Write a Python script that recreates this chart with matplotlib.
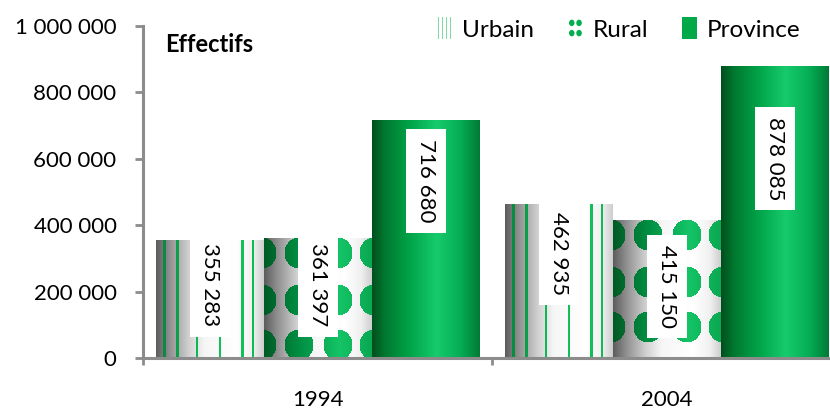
import numpy as np
import matplotlib
matplotlib.use("Agg")
import matplotlib.pyplot as plt
from matplotlib.patches import Rectangle, Ellipse
from matplotlib.legend_handler import HandlerBase
from matplotlib.ticker import FuncFormatter, FixedLocator

# ---------------- data ----------------
years = ["1994", "2004"]
series = ["Urbain", "Rural", "Province"]
urbain = [355283, 462935]
rural = [361397, 415150]
province = [716680, 878085]
y_ticks = [0, 200000, 400000, 600000, 800000, 1000000]
y_title = "Effectifs"

# ---------------- style / layout ----------------
plt.rcParams['font.family'] = ['Lato', 'DejaVu Sans']
FS = 16
W, H, DPI = 830, 409, 100
GRAY = "#8c8c8c"

fig = plt.figure(figsize=(W / DPI, H / DPI), dpi=DPI)
ax_left, ax_bottom, ax_top = 143, 358, 26
ax = fig.add_axes([ax_left / W, 1 - ax_bottom / H, 1 - ax_left / W, (ax_bottom - ax_top) / H])
group_px = 349.0
xmin = -0.501
xmax = xmin + (W - ax_left) / group_px
ymax = 1_000_000
ax.set_xlim(xmin, xmax)
ax.set_ylim(0, ymax)

bw = 108 / group_px
x = np.arange(len(years))
values = {"Urbain": urbain, "Rural": rural, "Province": province}
# label centre drop below the bar top, in pixels (layout only)
label_drop_px = {"Urbain": [45, 49], "Rural": [47, 66], "Province": [61, 92]}

def hexrgb(h):
    h = h.lstrip("#")
    return np.array([int(h[i:i + 2], 16) / 255 for i in (0, 2, 4)])

def profile(u, stops):
    pos = [s[0] for s in stops]
    cols = np.array([hexrgb(s[1]) for s in stops])
    return np.stack([np.interp(u, pos, cols[:, c]) for c in range(3)], axis=-1)

gray_stops = [(0, "#5c5c5c"), (0.12, "#8e8e8e"), (0.3, "#cfcfcf"), (0.45, "#f6f6f6"),
              (0.75, "#ffffff"), (0.9, "#f0f0f0"), (1.0, "#cdcdcd")]
green_stops = [(0, "#004f1d"), (0.12, "#00782f"), (0.35, "#00a448"), (0.6, "#16cb6c"),
               (0.82, "#05ad55"), (1.0, "#007a35")]
dot_stops = [(0, "#005a24"), (0.3, "#008a40"), (0.7, "#14c466"), (1.0, "#0aa852")]

def texture(kind, w, h):
    u = (np.arange(w) + 0.5) / w
    if kind == "Province":
        row = profile(u, green_stops)
        return np.broadcast_to(row, (h, w, 3)).copy()
    row = profile(u, gray_stops)
    img = np.broadcast_to(row, (h, w, 3)).copy()
    xx = np.arange(w)[None, :] + 0.5
    yy = np.arange(h)[:, None] + 0.5
    if kind == "Urbain":
        g = row.mean(axis=1)
        stripe = hexrgb("#10c25a")
        for f in [0.08, 0.20, 0.38, 0.59, 0.80, 0.90]:
            m = np.abs(xx[0] - f * w) < 1.2
            col = stripe[None, :] * (0.45 + 0.55 * g[m][:, None])
            img[:, m, :] = col[None, :, :]
    else:
        dcol = profile(u, dot_stops)
        rx, ry = 14.5, 15.5
        for cx in [-2, 35, 74, 110]:
            for cy in [15, 62, 107, 152]:
                m = ((xx - cx) / rx) ** 2 + ((yy - cy) / ry) ** 2 <= 1
                img[m] = np.broadcast_to(dcol[None, :, :], (h, w, 3))[m]
    return img

ppu_y = (ax_bottom - ax_top) / ymax
for i, name in enumerate(series):
    vals = values[name]
    bars = ax.bar(x + (i - 1) * bw, vals, bw, color="none", edgecolor="none", zorder=2)
    for j, (b, v) in enumerate(zip(bars, vals)):
        x0 = b.get_x()
        x1 = x0 + b.get_width()
        wpx = int(round(b.get_width() * group_px))
        hpx = max(1, int(round(v * ppu_y)))
        ax.imshow(texture(name, wpx, hpx), extent=(x0, x1, 0, v), origin="upper",
                  aspect="auto", interpolation="nearest", zorder=2)
        yc = v - label_drop_px[name][j] / ppu_y
        ax.text(x0 + b.get_width() / 2, yc, f"{v:,}".replace(",", " "), rotation=270,
                ha="center", va="center", fontsize=FS, color="black", zorder=5,
                bbox=dict(boxstyle="square,pad=0.45", fc="white", ec="none"))

# axes styling
for s in ["top", "right"]:
    ax.spines[s].set_visible(False)
for s in ["left", "bottom"]:
    ax.spines[s].set_color(GRAY)
    ax.spines[s].set_linewidth(2.2)
    ax.spines[s].set_zorder(6)
ax.yaxis.set_major_locator(FixedLocator(y_ticks))
ax.yaxis.set_major_formatter(FuncFormatter(lambda v, p: f"{int(v):,}".replace(",", " ")))
ax.tick_params(axis="y", direction="out", length=6, width=2, color=GRAY, pad=13, labelsize=FS)
ax.set_xticks(x)
ax.set_xticklabels(years)
ax.set_xticks([-0.5, 0.5, 1.5], minor=True)
ax.tick_params(axis="x", which="major", length=0, pad=23, labelsize=FS)
ax.tick_params(axis="x", which="minor", length=5, width=2, color=GRAY)

# limits last (setting ticks may expand them)
ax.set_xlim(xmin, xmax)
ax.set_ylim(0, ymax)

fig.text(165 / W, 1 - 44 / H, y_title, fontsize=17, fontweight="bold", va="center", ha="left")

# legend with custom icons
class StripeHandler(HandlerBase):
    def create_artists(self, legend, orig, xd, yd, w, h, fs, trans):
        arts = []
        for k in range(4):
            arts.append(Rectangle((-xd + k * w / 3.5, -yd - 0.15 * h), w * 0.07, h * 1.3,
                                  fc="#7fd9a0", ec="none", transform=trans))
        return arts

class DotHandler(HandlerBase):
    def create_artists(self, legend, orig, xd, yd, w, h, fs, trans):
        arts = []
        for cx in (0.25, 0.75):
            for cy in (0.2, 0.8):
                arts.append(Ellipse((-xd + cx * w, -yd + cy * h), w * 0.38, h * 0.38,
                                    fc="#00b050", ec="none", transform=trans))
        return arts

class SquareHandler(HandlerBase):
    def create_artists(self, legend, orig, xd, yd, w, h, fs, trans):
        return [Rectangle((-xd, -yd - 0.15 * h), w, h * 1.3, fc="#00a848", ec="none",
                          transform=trans)]

handles = [Rectangle((0, 0), 1, 1) for _ in series]
leg = fig.legend(handles, series, ncol=3, loc="center right",
                 bbox_to_anchor=(800 / W, 1 - 30 / H), frameon=False, fontsize=17.5,
                 handlelength=0.6, handletextpad=0.4, columnspacing=1.4,
                 borderpad=0, borderaxespad=0,
                 handler_map={handles[0]: StripeHandler(), handles[1]: DotHandler(),
                              handles[2]: SquareHandler()})

fig.savefig("out.png", dpi=DPI)
